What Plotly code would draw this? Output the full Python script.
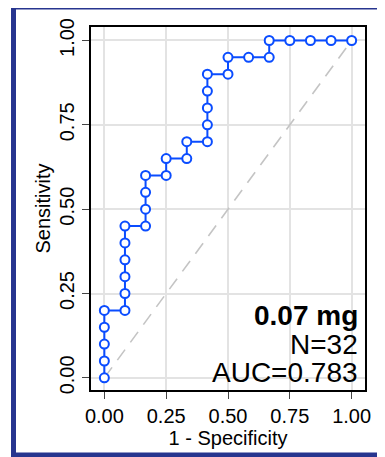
import plotly.graph_objects as go

# ROC curve data (1 - specificity, sensitivity)
fpr = [0, 0, 0, 0, 0,
       1/12, 1/12, 1/12, 1/12, 1/12, 1/12,
       2/12, 2/12, 2/12, 2/12,
       3/12, 3/12,
       4/12, 4/12,
       5/12, 5/12, 5/12, 5/12, 5/12,
       6/12, 6/12,
       7/12,
       8/12, 8/12,
       9/12, 10/12, 11/12, 1]
tpr = [0, 0.05, 0.10, 0.15, 0.20,
       0.20, 0.25, 0.30, 0.35, 0.40, 0.45,
       0.45, 0.50, 0.55, 0.60,
       0.60, 0.65,
       0.65, 0.70,
       0.70, 0.75, 0.80, 0.85, 0.90,
       0.90, 0.95,
       0.95,
       0.95, 1.00,
       1.00, 1.00, 1.00, 1.00]
diag_x = [0, 1]
diag_y = [0, 1]
tick_vals = [0, 0.25, 0.5, 0.75, 1.0]
tick_text = ["0.00", "0.25", "0.50", "0.75", "1.00"]
label_lines = ["<b>0.07 mg</b>", "N=32", "AUC=0.783"]

BLUE = "#0a4cff"
FONT = "Liberation Sans, Arial, sans-serif"

fig = go.Figure()
fig.add_trace(go.Scatter(x=diag_x, y=diag_y, mode="lines",
                         line=dict(color="#c4c4c4", width=1.6, dash="13px,9px"),
                         hoverinfo="skip", showlegend=False))
fig.add_trace(go.Scatter(x=fpr, y=tpr, mode="lines+markers",
                         line=dict(color=BLUE, width=2),
                         marker=dict(symbol="circle", size=9, color="white",
                                     line=dict(color=BLUE, width=2)),
                         showlegend=False))

OFF = 8  # page body offset
W, H = 385, 457
L, T = 91 - OFF, 27 - OFF
R = W - (365 - OFF)
B = H - (390 - OFF)
pw, ph = W - L - R, H - T - B

def px_x(px):
    return (px - OFF - L) / pw

def px_y(py):
    return (H - B - (py - OFF)) / ph

# outer frame
fig.add_shape(type="rect", xref="paper", yref="paper",
              x0=px_x(13.5), x1=px_x(400), y0=px_y(455), y1=px_y(7),
              line=dict(color="#27358f", width=5), fillcolor="rgba(0,0,0,0)",
              layer="below")

centers = [315.5, 344, 372.5]
for txt, cy in zip(label_lines, centers):
    fig.add_annotation(x=px_x(360), y=px_y(cy), xref="paper", yref="paper",
                       text=txt, showarrow=False, xanchor="right", yanchor="middle",
                       font=dict(family=FONT, size=28, color="black"))

axis_common = dict(showgrid=True, gridcolor="#e3e3e3", gridwidth=2,
                   showline=True, linecolor="black", linewidth=1.5, mirror=True,
                   ticks="outside", ticklen=7, tickwidth=1.2, tickcolor="#444",
                   zeroline=False, tickvals=tick_vals, ticktext=tick_text,
                   automargin=False,
                   tickfont=dict(family=FONT, size=20, color="black"))

fig.update_xaxes(range=[-0.054, 1.054],
                 title=dict(text="1 - Specificity", standoff=0,
                            font=dict(family=FONT, size=20, color="black")),
                 **axis_common)
fig.update_yaxes(range=[-0.036, 1.04], tickangle=-90,
                 title=dict(text="Sensitivity", standoff=0,
                            font=dict(family=FONT, size=20, color="black")),
                 **axis_common)

fig.update_layout(width=W, height=H, margin=dict(l=L, r=R, t=T, b=B),
                  paper_bgcolor="white", plot_bgcolor="white",
                  font=dict(family=FONT))

fig.write_html("out.html")
